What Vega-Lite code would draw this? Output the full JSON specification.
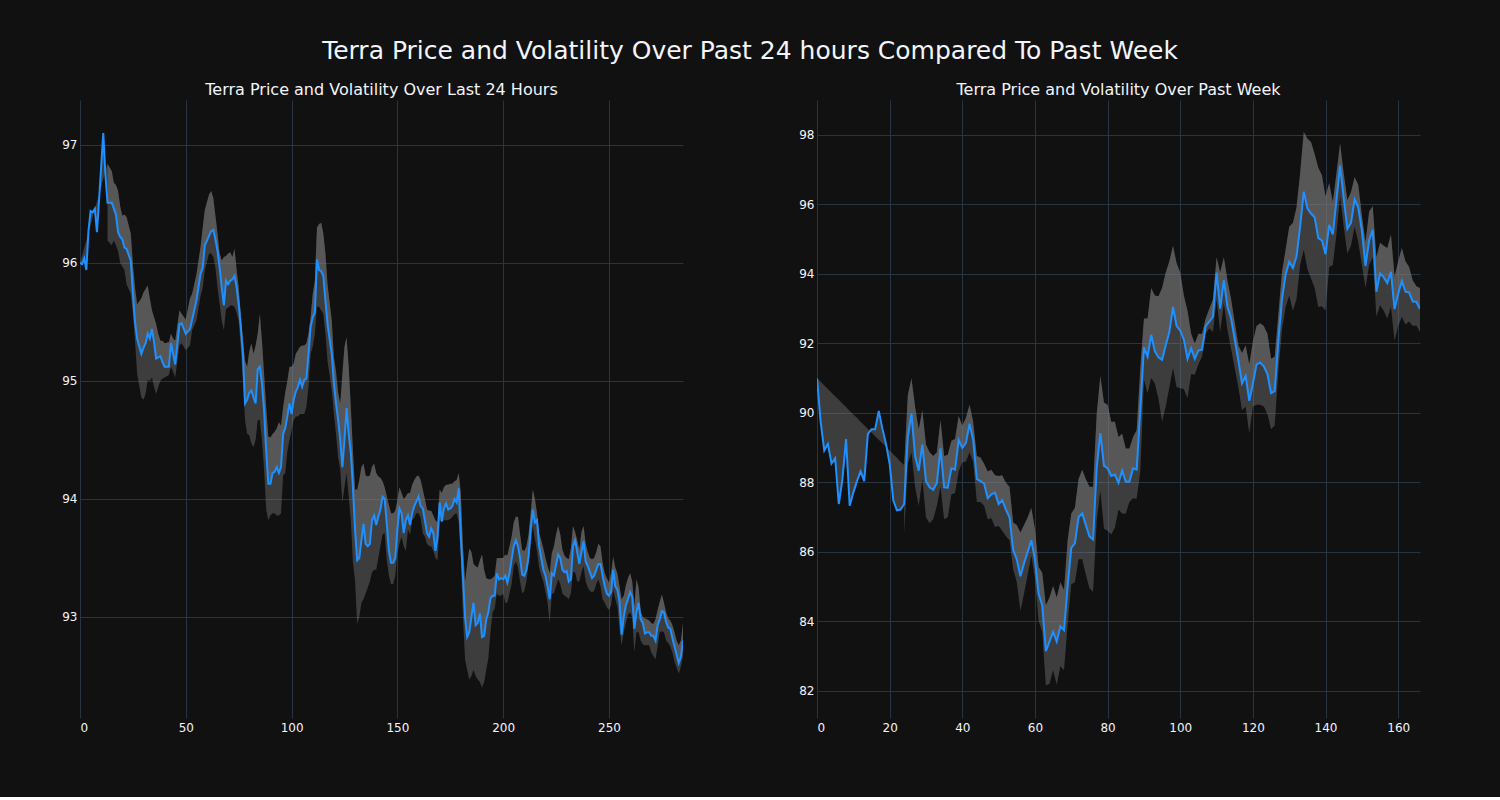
{
"$schema": "https://vega.github.io/schema/vega-lite/v6.json",
"background": "#111111",
"padding": {"left": 50, "top": 39, "right": 80, "bottom": 64},
"title": {"text": "Terra Price and Volatility Over Past 24 hours Compared To Past Week", "fontSize": 25, "color": "#f2f5fa", "font": "DejaVu Sans", "fontWeight": "normal", "anchor": "middle", "offset": 18, "dx": 15},
"spacing": 104,
"datasets": {
"d24": [
{"x":0,"p":96.0,"hi":96.0},{"x":1,"p":95.99,"hi":96.06},{"x":2,"p":96.04,"hi":96.13},{"x":3,"p":95.94,"hi":96.19},{"x":4,"p":96.27,"hi":96.26},{"x":5,"p":96.44,"hi":96.32},{"x":6,"p":96.43,"hi":96.39},{"x":7,"p":96.46,"hi":96.45},{"x":8,"p":96.26,"hi":96.52},{"x":9,"p":96.53,"hi":96.58},{"x":11,"p":97.1,"hi":96.71},{"x":12,"p":96.75,"hi":96.78},
{"x":13,"p":96.51,"hi":96.84,"lo":96.19},{"x":15,"p":96.51,"hi":96.78,"lo":96.15},{"x":16,"p":96.46,"hi":96.68,"lo":96.19},{"x":17,"p":96.41,"hi":96.66,"lo":96.15},{"x":18,"p":96.26,"hi":96.61,"lo":96.1},{"x":19,"p":96.22,"hi":96.48,"lo":96.0},{"x":20,"p":96.2,"hi":96.4,"lo":95.97},{"x":21,"p":96.13,"hi":96.41,"lo":95.94},{"x":22,"p":96.12,"hi":96.39,"lo":95.82},{"x":24,"p":96.02,"hi":96.25,"lo":95.74},{"x":25,"p":95.74,"hi":95.99,"lo":95.57},{"x":26,"p":95.5,"hi":95.79,"lo":95.34},{"x":27,"p":95.36,"hi":95.65,"lo":95.06},{"x":29,"p":95.23,"hi":95.7,"lo":94.86},{"x":30,"p":95.28,"hi":95.75,"lo":94.84},{"x":31,"p":95.32,"hi":95.78,"lo":94.89},{"x":32,"p":95.4,"hi":95.81,"lo":95.01},{"x":33,"p":95.36,"hi":95.7,"lo":95.0},{"x":34,"p":95.44,"hi":95.6,"lo":95.03},{"x":35,"p":95.33,"hi":95.54,"lo":94.95},{"x":36,"p":95.19,"hi":95.48,"lo":94.89},{"x":37,"p":95.2,"hi":95.4,"lo":94.95},{"x":38,"p":95.21,"hi":95.34,"lo":95.0},{"x":39,"p":95.16,"hi":95.34,"lo":95.02},{"x":40,"p":95.12,"hi":95.32,"lo":95.03},{"x":42,"p":95.12,"hi":95.33,"lo":95.05},{"x":43,"p":95.32,"hi":95.4,"lo":95.12},{"x":44,"p":95.23,"hi":95.36,"lo":95.08},{"x":45,"p":95.14,"hi":95.34,"lo":95.03},{"x":47,"p":95.48,"hi":95.6,"lo":95.3},{"x":48,"p":95.49,"hi":95.57,"lo":95.32},{"x":50,"p":95.4,"hi":95.52,"lo":95.26},{"x":52,"p":95.44,"hi":95.7,"lo":95.3},{"x":53,"p":95.52,"hi":95.74,"lo":95.43},{"x":55,"p":95.68,"hi":95.9,"lo":95.51},{"x":57,"p":95.91,"hi":96.14,"lo":95.72},{"x":58,"p":95.96,"hi":96.3,"lo":95.79},{"x":59,"p":96.15,"hi":96.45,"lo":95.94},{"x":61,"p":96.23,"hi":96.58,"lo":96.08},{"x":62,"p":96.27,"hi":96.61,"lo":96.08},{"x":63,"p":96.28,"hi":96.55,"lo":96.05},{"x":64,"p":96.2,"hi":96.4,"lo":95.96},{"x":65,"p":96.1,"hi":96.25,"lo":95.79},{"x":66,"p":95.96,"hi":96.08,"lo":95.65},{"x":67,"p":95.79,"hi":96.02,"lo":95.51},{"x":68,"p":95.64,"hi":96.05,"lo":95.43},{"x":69,"p":95.85,"hi":96.06,"lo":95.61},{"x":70,"p":95.82,"hi":96.08,"lo":95.62},{"x":71,"p":95.85,"hi":96.09,"lo":95.64},{"x":72,"p":95.86,"hi":96.05,"lo":95.64},{"x":73,"p":95.89,"hi":96.12,"lo":95.63},{"x":74,"p":95.8,"hi":95.95,"lo":95.58},{"x":75,"p":95.65,"hi":95.79,"lo":95.51},{"x":76,"p":95.46,"hi":95.57,"lo":95.29},{"x":77,"p":95.23,"hi":95.35,"lo":95.0},{"x":78,"p":94.81,"hi":95.17,"lo":94.67},{"x":79,"p":94.84,"hi":95.12,"lo":94.55},{"x":80,"p":94.9,"hi":95.25,"lo":94.54},{"x":81,"p":94.92,"hi":95.32,"lo":94.47},{"x":82,"p":94.86,"hi":95.23,"lo":94.44},{"x":83,"p":94.81,"hi":95.3,"lo":94.5},{"x":84,"p":95.1,"hi":95.4,"lo":94.67},{"x":85,"p":95.12,"hi":95.57,"lo":94.67},{"x":86,"p":94.98,"hi":95.34,"lo":94.5},{"x":87,"p":94.75,"hi":95.06,"lo":94.25},{"x":88,"p":94.41,"hi":94.78,"lo":93.91},{"x":89,"p":94.13,"hi":94.53,"lo":93.82},{"x":90,"p":94.13,"hi":94.52,"lo":93.86},{"x":91,"p":94.22,"hi":94.55,"lo":93.88},{"x":92,"p":94.23,"hi":94.57,"lo":93.88},{"x":93,"p":94.27,"hi":94.6,"lo":93.86},{"x":94,"p":94.22,"hi":94.65,"lo":93.86},{"x":95,"p":94.27,"hi":94.62,"lo":93.88},{"x":96,"p":94.55,"hi":94.78,"lo":94.2},{"x":97,"p":94.6,"hi":94.9,"lo":94.22},{"x":98,"p":94.7,"hi":95.0,"lo":94.4},{"x":99,"p":94.81,"hi":95.12,"lo":94.5},{"x":100,"p":94.72,"hi":95.12,"lo":94.58},{"x":101,"p":94.84,"hi":95.15,"lo":94.67},{"x":102,"p":94.91,"hi":95.23,"lo":94.7},{"x":103,"p":94.95,"hi":95.26,"lo":94.7},{"x":104,"p":95.01,"hi":95.29,"lo":94.72},{"x":105,"p":94.95,"hi":95.3,"lo":94.72},{"x":106,"p":95.01,"hi":95.3,"lo":94.72},{"x":107,"p":95.02,"hi":95.32,"lo":94.78},{"x":108,"p":95.23,"hi":95.4,"lo":94.95},{"x":109,"p":95.46,"hi":95.54,"lo":95.23},{"x":110,"p":95.54,"hi":95.74,"lo":95.29},{"x":111,"p":95.58,"hi":95.85,"lo":95.4},{"x":112,"p":96.03,"hi":96.3,"lo":95.63},{"x":113,"p":95.94,"hi":96.33,"lo":95.63},{"x":114,"p":95.93,"hi":96.34,"lo":95.6},{"x":115,"p":95.89,"hi":96.25,"lo":95.57},{"x":116,"p":95.68,"hi":96.08,"lo":95.4},{"x":117,"p":95.48,"hi":95.82,"lo":95.17},{"x":119,"p":95.23,"hi":95.51,"lo":94.92},{"x":120,"p":94.98,"hi":95.2,"lo":94.72},{"x":121,"p":94.81,"hi":95.08,"lo":94.55},{"x":122,"p":94.67,"hi":94.9,"lo":94.35},{"x":123,"p":94.5,"hi":94.81,"lo":94.25},{"x":124,"p":94.27,"hi":95.06,"lo":93.97},{"x":125,"p":94.5,"hi":95.29,"lo":94.1},{"x":126,"p":94.77,"hi":95.37,"lo":94.22},{"x":127,"p":94.55,"hi":95.12,"lo":94.02},{"x":128,"p":94.39,"hi":94.78,"lo":93.82},{"x":129,"p":94.1,"hi":94.41,"lo":93.46},{"x":130,"p":93.74,"hi":94.08,"lo":93.31},{"x":131,"p":93.48,"hi":94.08,"lo":92.94},{"x":132,"p":93.5,"hi":94.16,"lo":93.0},{"x":133,"p":93.65,"hi":94.27,"lo":93.12},{"x":134,"p":93.79,"hi":94.3,"lo":93.15},{"x":135,"p":93.62,"hi":94.2,"lo":93.2},{"x":136,"p":93.6,"hi":94.19,"lo":93.25},{"x":137,"p":93.62,"hi":94.2,"lo":93.3},{"x":138,"p":93.82,"hi":94.27,"lo":93.38},{"x":139,"p":93.86,"hi":94.3,"lo":93.4},{"x":140,"p":93.78,"hi":94.22,"lo":93.4},{"x":141,"p":93.85,"hi":94.19,"lo":93.5},{"x":142,"p":93.91,"hi":94.18,"lo":93.6},{"x":143,"p":94.02,"hi":94.15,"lo":93.7},{"x":144,"p":94.0,"hi":94.1,"lo":93.71},{"x":145,"p":93.79,"hi":94.02,"lo":93.48},{"x":146,"p":93.56,"hi":93.95,"lo":93.35},{"x":147,"p":93.46,"hi":93.88,"lo":93.28},{"x":148,"p":93.46,"hi":93.88,"lo":93.28},{"x":149,"p":93.5,"hi":93.9,"lo":93.35},{"x":150,"p":93.74,"hi":93.99,"lo":93.54},{"x":151,"p":93.92,"hi":94.1,"lo":93.62},{"x":152,"p":93.88,"hi":94.05,"lo":93.68},{"x":153,"p":93.71,"hi":94.0,"lo":93.6},{"x":154,"p":93.82,"hi":94.02,"lo":93.56},{"x":155,"p":93.86,"hi":94.05,"lo":93.74},{"x":156,"p":93.78,"hi":94.05,"lo":93.7},{"x":157,"p":93.88,"hi":94.12,"lo":93.82},{"x":158,"p":93.94,"hi":94.16,"lo":93.84},{"x":159,"p":93.98,"hi":94.19,"lo":93.88},{"x":160,"p":94.02,"hi":94.2,"lo":93.88},{"x":161,"p":93.94,"hi":94.16,"lo":93.84},{"x":162,"p":93.92,"hi":94.08,"lo":93.71},{"x":163,"p":93.82,"hi":94.0,"lo":93.68},{"x":164,"p":93.71,"hi":93.91,"lo":93.62},{"x":165,"p":93.68,"hi":93.9,"lo":93.6},{"x":166,"p":93.75,"hi":93.9,"lo":93.6},{"x":167,"p":93.71,"hi":93.86,"lo":93.56},{"x":168,"p":93.56,"hi":93.82,"lo":93.5},{"x":169,"p":93.68,"hi":93.8,"lo":93.48},{"x":170,"p":93.97,"hi":94.08,"lo":93.82},{"x":171,"p":93.81,"hi":94.05,"lo":93.8},{"x":172,"p":93.92,"hi":94.1,"lo":93.82},{"x":173,"p":93.96,"hi":94.12,"lo":93.82},{"x":174,"p":93.91,"hi":94.12,"lo":93.82},{"x":175,"p":93.92,"hi":94.13,"lo":93.83},{"x":176,"p":93.94,"hi":94.13,"lo":93.85},{"x":177,"p":94.0,"hi":94.15,"lo":93.87},{"x":178,"p":93.97,"hi":94.16,"lo":93.88},{"x":179,"p":94.09,"hi":94.22,"lo":93.8},{"x":180,"p":93.68,"hi":94.05,"lo":93.5},{"x":181,"p":93.34,"hi":93.6,"lo":93.0},{"x":182,"p":93.0,"hi":93.3,"lo":92.64},{"x":183,"p":92.83,"hi":93.45,"lo":92.55},{"x":184,"p":92.87,"hi":93.58,"lo":92.47},{"x":185,"p":93.0,"hi":93.55,"lo":92.5},{"x":186,"p":93.12,"hi":93.45,"lo":92.55},{"x":187,"p":92.93,"hi":93.43,"lo":92.5},{"x":188,"p":92.95,"hi":93.42,"lo":92.47},{"x":189,"p":93.03,"hi":93.48,"lo":92.45},{"x":190,"p":92.83,"hi":93.53,"lo":92.4},{"x":191,"p":92.84,"hi":93.4,"lo":92.45},{"x":192,"p":92.98,"hi":93.33,"lo":92.55},{"x":193,"p":93.04,"hi":93.32,"lo":92.65},{"x":194,"p":93.16,"hi":93.32,"lo":92.87},{"x":195,"p":93.18,"hi":93.33,"lo":93.04},{"x":196,"p":93.18,"hi":93.35,"lo":93.07},{"x":197,"p":93.37,"hi":93.5,"lo":93.2},{"x":198,"p":93.32,"hi":93.5,"lo":93.18},{"x":199,"p":93.33,"hi":93.5,"lo":93.18},{"x":200,"p":93.32,"hi":93.5,"lo":93.2},{"x":201,"p":93.35,"hi":93.53,"lo":93.12},{"x":202,"p":93.29,"hi":93.52,"lo":93.12},{"x":203,"p":93.37,"hi":93.6,"lo":93.2},{"x":204,"p":93.49,"hi":93.68,"lo":93.28},{"x":205,"p":93.6,"hi":93.8,"lo":93.43},{"x":206,"p":93.65,"hi":93.85,"lo":93.47},{"x":207,"p":93.6,"hi":93.85,"lo":93.42},{"x":208,"p":93.5,"hi":93.7,"lo":93.3},{"x":209,"p":93.36,"hi":93.57,"lo":93.2},{"x":210,"p":93.35,"hi":93.56,"lo":93.22},{"x":211,"p":93.4,"hi":93.6,"lo":93.3},{"x":212,"p":93.51,"hi":93.7,"lo":93.45},{"x":213,"p":93.74,"hi":93.88,"lo":93.6},{"x":214,"p":93.91,"hi":94.08,"lo":93.77},{"x":215,"p":93.8,"hi":94.0,"lo":93.66},{"x":216,"p":93.82,"hi":93.88,"lo":93.56},{"x":217,"p":93.6,"hi":93.71,"lo":93.42},{"x":218,"p":93.5,"hi":93.65,"lo":93.35},{"x":219,"p":93.4,"hi":93.58,"lo":93.3},{"x":220,"p":93.35,"hi":93.5,"lo":93.21},{"x":221,"p":93.26,"hi":93.43,"lo":93.12},{"x":222,"p":93.15,"hi":93.37,"lo":92.95},{"x":223,"p":93.37,"hi":93.54,"lo":93.2},{"x":224,"p":93.35,"hi":93.6,"lo":93.2},{"x":225,"p":93.44,"hi":93.7,"lo":93.26},{"x":226,"p":93.53,"hi":93.77,"lo":93.32},{"x":227,"p":93.5,"hi":93.7,"lo":93.28},{"x":228,"p":93.4,"hi":93.57,"lo":93.2},{"x":229,"p":93.38,"hi":93.52,"lo":93.18},{"x":230,"p":93.39,"hi":93.5,"lo":93.17},{"x":231,"p":93.3,"hi":93.49,"lo":93.15},{"x":232,"p":93.32,"hi":93.58,"lo":93.2},{"x":233,"p":93.6,"hi":93.77,"lo":93.38},{"x":234,"p":93.65,"hi":93.72,"lo":93.38},{"x":235,"p":93.55,"hi":93.65,"lo":93.3},{"x":236,"p":93.45,"hi":93.57,"lo":93.3},{"x":237,"p":93.55,"hi":93.72,"lo":93.38},{"x":238,"p":93.64,"hi":93.77,"lo":93.43},{"x":239,"p":93.47,"hi":93.62,"lo":93.3},{"x":240,"p":93.43,"hi":93.55,"lo":93.25},{"x":241,"p":93.38,"hi":93.5,"lo":93.22},{"x":242,"p":93.33,"hi":93.49,"lo":93.21},{"x":243,"p":93.35,"hi":93.5,"lo":93.22},{"x":244,"p":93.4,"hi":93.55,"lo":93.28},{"x":245,"p":93.45,"hi":93.62,"lo":93.32},{"x":246,"p":93.45,"hi":93.6,"lo":93.26},{"x":247,"p":93.35,"hi":93.46,"lo":93.15},{"x":248,"p":93.26,"hi":93.37,"lo":93.12},{"x":249,"p":93.2,"hi":93.33,"lo":93.08},{"x":250,"p":93.18,"hi":93.29,"lo":93.06},{"x":251,"p":93.21,"hi":93.37,"lo":93.1},{"x":252,"p":93.4,"hi":93.51,"lo":93.23},{"x":253,"p":93.26,"hi":93.42,"lo":93.15},{"x":254,"p":93.23,"hi":93.37,"lo":93.09},{"x":255,"p":93.13,"hi":93.26,"lo":92.9},{"x":256,"p":92.85,"hi":93.15,"lo":92.76},{"x":257,"p":93.0,"hi":93.18,"lo":92.87},{"x":258,"p":93.1,"hi":93.27,"lo":92.95},{"x":259,"p":93.15,"hi":93.33,"lo":93.02},{"x":260,"p":93.21,"hi":93.37,"lo":93.04},{"x":261,"p":93.17,"hi":93.3,"lo":93.0},{"x":262,"p":92.9,"hi":93.09,"lo":92.7},{"x":263,"p":93.04,"hi":93.32,"lo":92.87},{"x":264,"p":93.12,"hi":93.25,"lo":92.87},{"x":265,"p":92.98,"hi":93.05,"lo":92.8},{"x":266,"p":92.95,"hi":93.0,"lo":92.77},{"x":267,"p":92.86,"hi":92.99,"lo":92.76},{"x":268,"p":92.87,"hi":92.98,"lo":92.76},{"x":269,"p":92.87,"hi":92.97,"lo":92.76},{"x":270,"p":92.84,"hi":92.95,"lo":92.7},{"x":271,"p":92.84,"hi":92.94,"lo":92.67},{"x":272,"p":92.8,"hi":92.98,"lo":92.64},{"x":273,"p":92.93,"hi":93.06,"lo":92.75},{"x":274,"p":92.98,"hi":93.13,"lo":92.87},{"x":275,"p":93.05,"hi":93.19,"lo":92.88},{"x":276,"p":93.04,"hi":93.12,"lo":92.87},{"x":277,"p":92.96,"hi":93.04,"lo":92.8},{"x":278,"p":92.91,"hi":92.99,"lo":92.78},{"x":279,"p":92.9,"hi":92.97,"lo":92.75},{"x":280,"p":92.82,"hi":92.93,"lo":92.7},{"x":281,"p":92.75,"hi":92.87,"lo":92.62},{"x":282,"p":92.68,"hi":92.8,"lo":92.57},{"x":283,"p":92.61,"hi":92.76,"lo":92.52},{"x":284,"p":92.66,"hi":92.8,"lo":92.58},{"x":285,"p":92.8,"hi":92.95,"lo":92.67}
],
"week": [
{"x":0,"p":91.0,"hi":91.0},{"x":1,"p":89.75,"hi":90.9},{"x":2,"p":88.92,"hi":90.79},{"x":3,"p":89.11,"hi":90.69},{"x":4,"p":88.54,"hi":90.58},{"x":5,"p":88.7,"hi":90.48},{"x":6,"p":87.38,"hi":90.38},{"x":7,"p":88.1,"hi":90.27},{"x":8,"p":89.25,"hi":90.17},{"x":9,"p":87.33,"hi":90.06},{"x":10,"p":87.71,"hi":89.96},{"x":11,"p":88.04,"hi":89.86},{"x":12,"p":88.32,"hi":89.75},{"x":13,"p":88.04,"hi":89.65},{"x":14,"p":89.4,"hi":89.54},{"x":15,"p":89.53,"hi":89.44},{"x":16,"p":89.53,"hi":89.33},{"x":17,"p":90.06,"hi":89.23},{"x":18,"p":89.55,"hi":89.13},{"x":19,"p":89.11,"hi":89.02},{"x":20,"p":88.54,"hi":88.92},{"x":21,"p":87.49,"hi":88.81},{"x":22,"p":87.2,"hi":88.71},{"x":23,"p":87.22,"hi":88.6},
{"x":24,"p":87.38,"hi":88.5,"lo":86.5},{"x":25,"p":89.31,"hi":90.52,"lo":88.54},{"x":26,"p":89.99,"hi":91.0,"lo":88.87},{"x":27,"p":88.76,"hi":90.19,"lo":87.88},{"x":28,"p":88.34,"hi":89.53,"lo":87.33},{"x":29,"p":89.09,"hi":90.08,"lo":88.1},{"x":30,"p":88.04,"hi":89.09,"lo":87.0},{"x":31,"p":87.86,"hi":88.87,"lo":86.83},{"x":32,"p":87.79,"hi":88.76,"lo":86.94},{"x":33,"p":87.99,"hi":88.87,"lo":87.33},{"x":34,"p":88.98,"hi":89.8,"lo":87.88},{"x":35,"p":87.86,"hi":88.76,"lo":86.94},{"x":36,"p":87.85,"hi":88.8,"lo":87.0},{"x":37,"p":88.41,"hi":89.2,"lo":87.66},{"x":38,"p":88.37,"hi":89.25,"lo":87.7},{"x":39,"p":89.22,"hi":89.91,"lo":88.32},{"x":40,"p":89.0,"hi":89.64,"lo":88.59},{"x":41,"p":89.14,"hi":89.86,"lo":88.6},{"x":42,"p":89.69,"hi":90.24,"lo":88.87},{"x":43,"p":89.22,"hi":89.75,"lo":88.59},{"x":44,"p":88.1,"hi":88.76,"lo":87.44},{"x":45,"p":88.04,"hi":88.72,"lo":87.44},{"x":46,"p":87.97,"hi":88.54,"lo":87.33},{"x":47,"p":87.55,"hi":88.32,"lo":86.94},{"x":48,"p":87.66,"hi":88.37,"lo":86.97},{"x":49,"p":87.71,"hi":88.21,"lo":86.72},{"x":50,"p":87.38,"hi":88.19,"lo":86.75},{"x":51,"p":87.49,"hi":88.21,"lo":86.61},{"x":52,"p":87.22,"hi":87.99,"lo":86.45},{"x":53,"p":87.0,"hi":87.88,"lo":86.34},{"x":54,"p":86.06,"hi":86.85,"lo":85.5},{"x":55,"p":85.79,"hi":86.78,"lo":85.13},{"x":56,"p":85.3,"hi":86.56,"lo":84.3},{"x":57,"p":85.68,"hi":86.78,"lo":84.8},{"x":58,"p":86.0,"hi":87.0,"lo":85.35},{"x":59,"p":86.34,"hi":87.27,"lo":85.9},{"x":60,"p":85.79,"hi":86.67,"lo":85.24},{"x":61,"p":84.8,"hi":85.57,"lo":84.03},{"x":62,"p":84.47,"hi":85.4,"lo":83.7},{"x":63,"p":83.15,"hi":84.47,"lo":82.16},{"x":64,"p":83.42,"hi":84.69,"lo":82.21},{"x":65,"p":83.7,"hi":85.02,"lo":82.6},{"x":66,"p":83.42,"hi":84.69,"lo":82.18},{"x":67,"p":83.86,"hi":85.13,"lo":82.71},{"x":68,"p":83.75,"hi":84.91,"lo":82.6},{"x":69,"p":85.02,"hi":86.34,"lo":83.92},{"x":70,"p":86.12,"hi":87.11,"lo":85.07},{"x":71,"p":86.25,"hi":87.27,"lo":85.13},{"x":72,"p":87.0,"hi":88.1,"lo":85.79},{"x":73,"p":87.11,"hi":88.37,"lo":85.79},{"x":74,"p":86.78,"hi":88.1,"lo":85.35},{"x":75,"p":86.45,"hi":87.88,"lo":84.96},{"x":76,"p":86.36,"hi":87.88,"lo":84.85},{"x":77,"p":88.43,"hi":89.97,"lo":86.89},{"x":78,"p":89.42,"hi":91.07,"lo":87.77},{"x":79,"p":88.48,"hi":90.3,"lo":86.67},{"x":80,"p":88.41,"hi":90.24,"lo":86.61},{"x":81,"p":88.19,"hi":89.75,"lo":86.5},{"x":82,"p":88.23,"hi":89.75,"lo":86.7},{"x":83,"p":87.99,"hi":89.31,"lo":87.22},{"x":84,"p":88.34,"hi":89.4,"lo":87.11},{"x":85,"p":88.02,"hi":88.98,"lo":87.1},{"x":86,"p":88.02,"hi":88.98,"lo":87.44},{"x":87,"p":88.41,"hi":89.31,"lo":87.55},{"x":88,"p":88.37,"hi":89.5,"lo":87.53},{"x":89,"p":90.08,"hi":91.29,"lo":88.32},{"x":90,"p":91.89,"hi":92.72,"lo":90.96},{"x":91,"p":91.62,"hi":92.72,"lo":90.57},{"x":92,"p":92.25,"hi":93.6,"lo":91.01},{"x":93,"p":91.78,"hi":93.38,"lo":90.85},{"x":94,"p":91.6,"hi":93.36,"lo":90.41},{"x":95,"p":91.53,"hi":93.6,"lo":89.75},{"x":96,"p":91.95,"hi":94.04,"lo":90.19},{"x":97,"p":92.33,"hi":94.37,"lo":90.74},{"x":98,"p":93.05,"hi":94.81,"lo":91.29},{"x":99,"p":92.5,"hi":94.31,"lo":90.74},{"x":100,"p":92.37,"hi":94.04,"lo":90.72},{"x":101,"p":92.11,"hi":93.38,"lo":90.68},{"x":102,"p":91.56,"hi":92.94,"lo":90.43},{"x":103,"p":91.86,"hi":92.28,"lo":91.12},{"x":104,"p":91.56,"hi":92.0,"lo":91.1},{"x":105,"p":91.8,"hi":92.28,"lo":91.4},{"x":106,"p":91.82,"hi":92.28,"lo":91.62},{"x":107,"p":92.5,"hi":92.72,"lo":92.28},{"x":108,"p":92.63,"hi":93.0,"lo":92.44},{"x":109,"p":92.77,"hi":93.27,"lo":92.33},{"x":110,"p":94.04,"hi":94.48,"lo":93.27},{"x":111,"p":93.0,"hi":94.04,"lo":92.33},{"x":112,"p":93.82,"hi":94.48,"lo":93.16},{"x":113,"p":93.05,"hi":93.82,"lo":92.39},{"x":114,"p":92.72,"hi":93.27,"lo":91.84},{"x":115,"p":92.11,"hi":92.61,"lo":91.29},{"x":116,"p":91.51,"hi":91.95,"lo":90.74},{"x":117,"p":90.85,"hi":91.73,"lo":90.08},{"x":118,"p":91.07,"hi":91.95,"lo":90.19},{"x":119,"p":90.35,"hi":91.4,"lo":89.42},{"x":120,"p":90.85,"hi":92.06,"lo":90.19},{"x":121,"p":91.4,"hi":92.5,"lo":90.24},{"x":122,"p":91.45,"hi":92.58,"lo":90.24},{"x":123,"p":91.34,"hi":92.5,"lo":90.19},{"x":124,"p":91.12,"hi":92.28,"lo":89.97},{"x":125,"p":90.57,"hi":91.56,"lo":89.53},{"x":126,"p":90.63,"hi":91.62,"lo":89.64},{"x":127,"p":92.06,"hi":92.83,"lo":91.18},{"x":128,"p":93.27,"hi":94.04,"lo":92.39},{"x":129,"p":93.98,"hi":94.7,"lo":93.05},{"x":130,"p":94.35,"hi":95.36,"lo":93.38},{"x":131,"p":94.17,"hi":95.47,"lo":92.94},{"x":132,"p":94.5,"hi":95.91,"lo":93.27},{"x":133,"p":95.36,"hi":96.9,"lo":94.26},{"x":134,"p":96.37,"hi":98.09,"lo":94.7},{"x":135,"p":95.89,"hi":97.89,"lo":94.15},{"x":136,"p":95.74,"hi":97.8,"lo":93.87},{"x":137,"p":95.63,"hi":97.45,"lo":93.6},{"x":138,"p":95.03,"hi":97.06,"lo":93.05},{"x":139,"p":94.97,"hi":96.84,"lo":93.07},{"x":140,"p":94.57,"hi":96.24,"lo":92.94},{"x":141,"p":95.41,"hi":96.62,"lo":94.2},{"x":142,"p":95.14,"hi":96.07,"lo":94.26},{"x":143,"p":96.13,"hi":96.9,"lo":95.14},{"x":144,"p":97.12,"hi":97.76,"lo":96.24},{"x":145,"p":96.18,"hi":96.9,"lo":95.36},{"x":146,"p":95.3,"hi":96.13,"lo":94.59},{"x":147,"p":95.47,"hi":96.35,"lo":94.81},{"x":148,"p":96.15,"hi":96.79,"lo":95.36},{"x":149,"p":95.91,"hi":96.57,"lo":94.92},{"x":150,"p":95.25,"hi":95.69,"lo":94.26},{"x":151,"p":94.23,"hi":94.92,"lo":93.6},{"x":152,"p":94.97,"hi":95.8,"lo":94.26},{"x":153,"p":95.27,"hi":95.96,"lo":94.48},{"x":154,"p":93.49,"hi":94.48,"lo":92.77},{"x":155,"p":94.02,"hi":94.9,"lo":93.1},{"x":156,"p":93.91,"hi":94.81,"lo":92.94},{"x":157,"p":93.74,"hi":94.75,"lo":92.72},{"x":158,"p":94.06,"hi":95.14,"lo":93.05},{"x":159,"p":92.99,"hi":93.93,"lo":92.08},{"x":160,"p":93.43,"hi":94.37,"lo":92.5},{"x":161,"p":93.8,"hi":94.75,"lo":92.77},{"x":162,"p":93.49,"hi":94.37,"lo":92.55},{"x":163,"p":93.47,"hi":94.2,"lo":92.63},{"x":164,"p":93.21,"hi":93.82,"lo":92.5},{"x":165,"p":93.2,"hi":93.65,"lo":92.52},{"x":166,"p":92.99,"hi":93.6,"lo":92.33}
]
},
"hconcat": [
{
"width": 603, "height": 618,
"title": {"text": "Terra Price and Volatility Over Last 24 Hours"},
"data": {"name": "d24"},
"layer": [
{"mark": {"type": "area", "color": "#808080", "opacity": 0.4, "clip": true},
 "encoding": {"x": {"field": "x", "type": "quantitative", "scale": {"domain": [0, 285], "nice": false, "zero": false}, "axis": {"values": [0,50,100,150,200,250], "title": null}},
  "y": {"field": "p", "type": "quantitative", "scale": {"domain": [92.144, 97.381], "nice": false, "zero": false}, "axis": {"values": [93,94,95,96,97], "format": "d", "title": null}},
  "y2": {"field": "hi"}}},
{"transform": [{"filter": "isValid(datum.lo)"}],
 "mark": {"type": "area", "color": "#808080", "opacity": 0.4, "clip": true},
 "encoding": {"x": {"field": "x", "type": "quantitative"}, "y": {"field": "lo", "type": "quantitative"}, "y2": {"field": "hi"}}},
{"mark": {"type": "line", "color": "#1E90FF", "strokeWidth": 2, "clip": true},
 "encoding": {"x": {"field": "x", "type": "quantitative"}, "y": {"field": "p", "type": "quantitative"}}}
]
},
{
"width": 603, "height": 618,
"title": {"text": "Terra Price and Volatility Over Past Week"},
"data": {"name": "week"},
"layer": [
{"mark": {"type": "area", "color": "#808080", "opacity": 0.4, "clip": true},
 "encoding": {"x": {"field": "x", "type": "quantitative", "scale": {"domain": [0, 166], "nice": false, "zero": false}, "axis": {"values": [0,20,40,60,80,100,120,140,160], "title": null}},
  "y": {"field": "p", "type": "quantitative", "scale": {"domain": [81.223, 99.007], "nice": false, "zero": false}, "axis": {"values": [82,84,86,88,90,92,94,96,98], "format": "d", "title": null}},
  "y2": {"field": "hi"}}},
{"transform": [{"filter": "isValid(datum.lo)"}],
 "mark": {"type": "area", "color": "#808080", "opacity": 0.4, "clip": true},
 "encoding": {"x": {"field": "x", "type": "quantitative"}, "y": {"field": "lo", "type": "quantitative"}, "y2": {"field": "hi"}}},
{"mark": {"type": "line", "color": "#1E90FF", "strokeWidth": 2, "clip": true},
 "encoding": {"x": {"field": "x", "type": "quantitative"}, "y": {"field": "p", "type": "quantitative"}}}
]
}
],
"config": {
"view": {"stroke": null},
"title": {"fontSize": 16, "color": "#f2f5fa", "font": "DejaVu Sans", "fontWeight": "normal", "offset": 2, "anchor": "middle"},
"axis": {"gridColor": "#283442", "gridWidth": 1, "gridOpacity": 1, "domain": false, "ticks": false, "labelColor": "#f2f5fa", "labelFont": "DejaVu Sans", "labelFontSize": 12},
"axisY": {"minExtent": 30, "maxExtent": 30, "labelPadding": 3},
"axisX": {"labelPadding": 4}
}
}
